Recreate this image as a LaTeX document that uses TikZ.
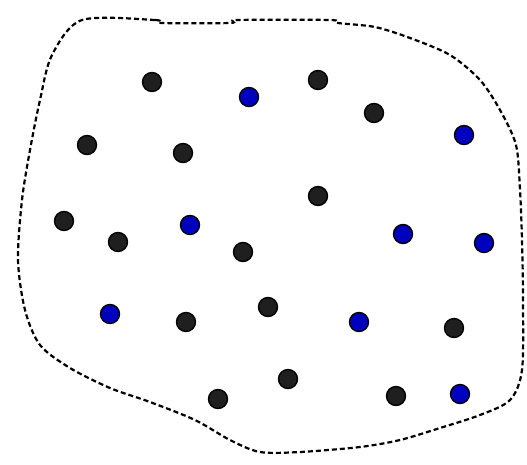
\documentclass[tikz,border=0pt]{standalone}
\begin{document}
\begin{tikzpicture}[x=1pt,y=-1pt,
  bdot/.style={circle,draw=black,line width=1.4pt,fill=black!88,minimum size=19pt,inner sep=0pt},
  udot/.style={circle,draw=black,line width=1.4pt,fill=blue!75!black,minimum size=19pt,inner sep=0pt},
  border/.style={draw=black,line width=2.2pt,dash pattern=on 5pt off 3pt}]
\useasboundingbox (0,0) rectangle (527,464);
\draw[border] plot[smooth cycle,tension=0.5] coordinates {
  (82,20) (155,20) (162,23) (230,23) (238,20) (330,20) (338,23) (375,27)
  (410,38) (450,55) (480,80) (500,110) (516,145) (520,190) (522,240)
  (523,300) (522,370) (510,400) (480,415) (440,428) (400,440) (360,447)
  (300,452) (260,452) (230,440) (195,420) (150,402) (110,388) (70,368)
  (40,345) (25,310) (18,260) (22,200) (30,150) (40,100) (52,55) };
\node[bdot] (a1) at (152,82) {};
\node[udot] (a2) at (249,97) {};
\node[bdot] (a3) at (318,80) {};
\node[bdot] (a4) at (374,113) {};
\node[udot] (a5) at (464,135) {};
\node[bdot] (b1) at (87,145) {};
\node[bdot] (b2) at (183,153) {};
\node[bdot] (b3) at (318,196) {};
\node[bdot] (c1) at (64,221) {};
\node[bdot] (c2) at (118,242) {};
\node[udot] (c3) at (190,225) {};
\node[bdot] (c4) at (243,252) {};
\node[udot] (c5) at (403,234) {};
\node[udot] (c6) at (484,243) {};
\node[udot] (d1) at (110,314) {};
\node[bdot] (d2) at (186,322) {};
\node[bdot] (d3) at (268,307) {};
\node[udot] (d4) at (359,322) {};
\node[bdot] (d5) at (454,328) {};
\node[bdot] (e1) at (218,399) {};
\node[bdot] (e2) at (288,379) {};
\node[bdot] (e3) at (396,396) {};
\node[udot] (e4) at (460,394) {};
\end{tikzpicture}
\end{document}
